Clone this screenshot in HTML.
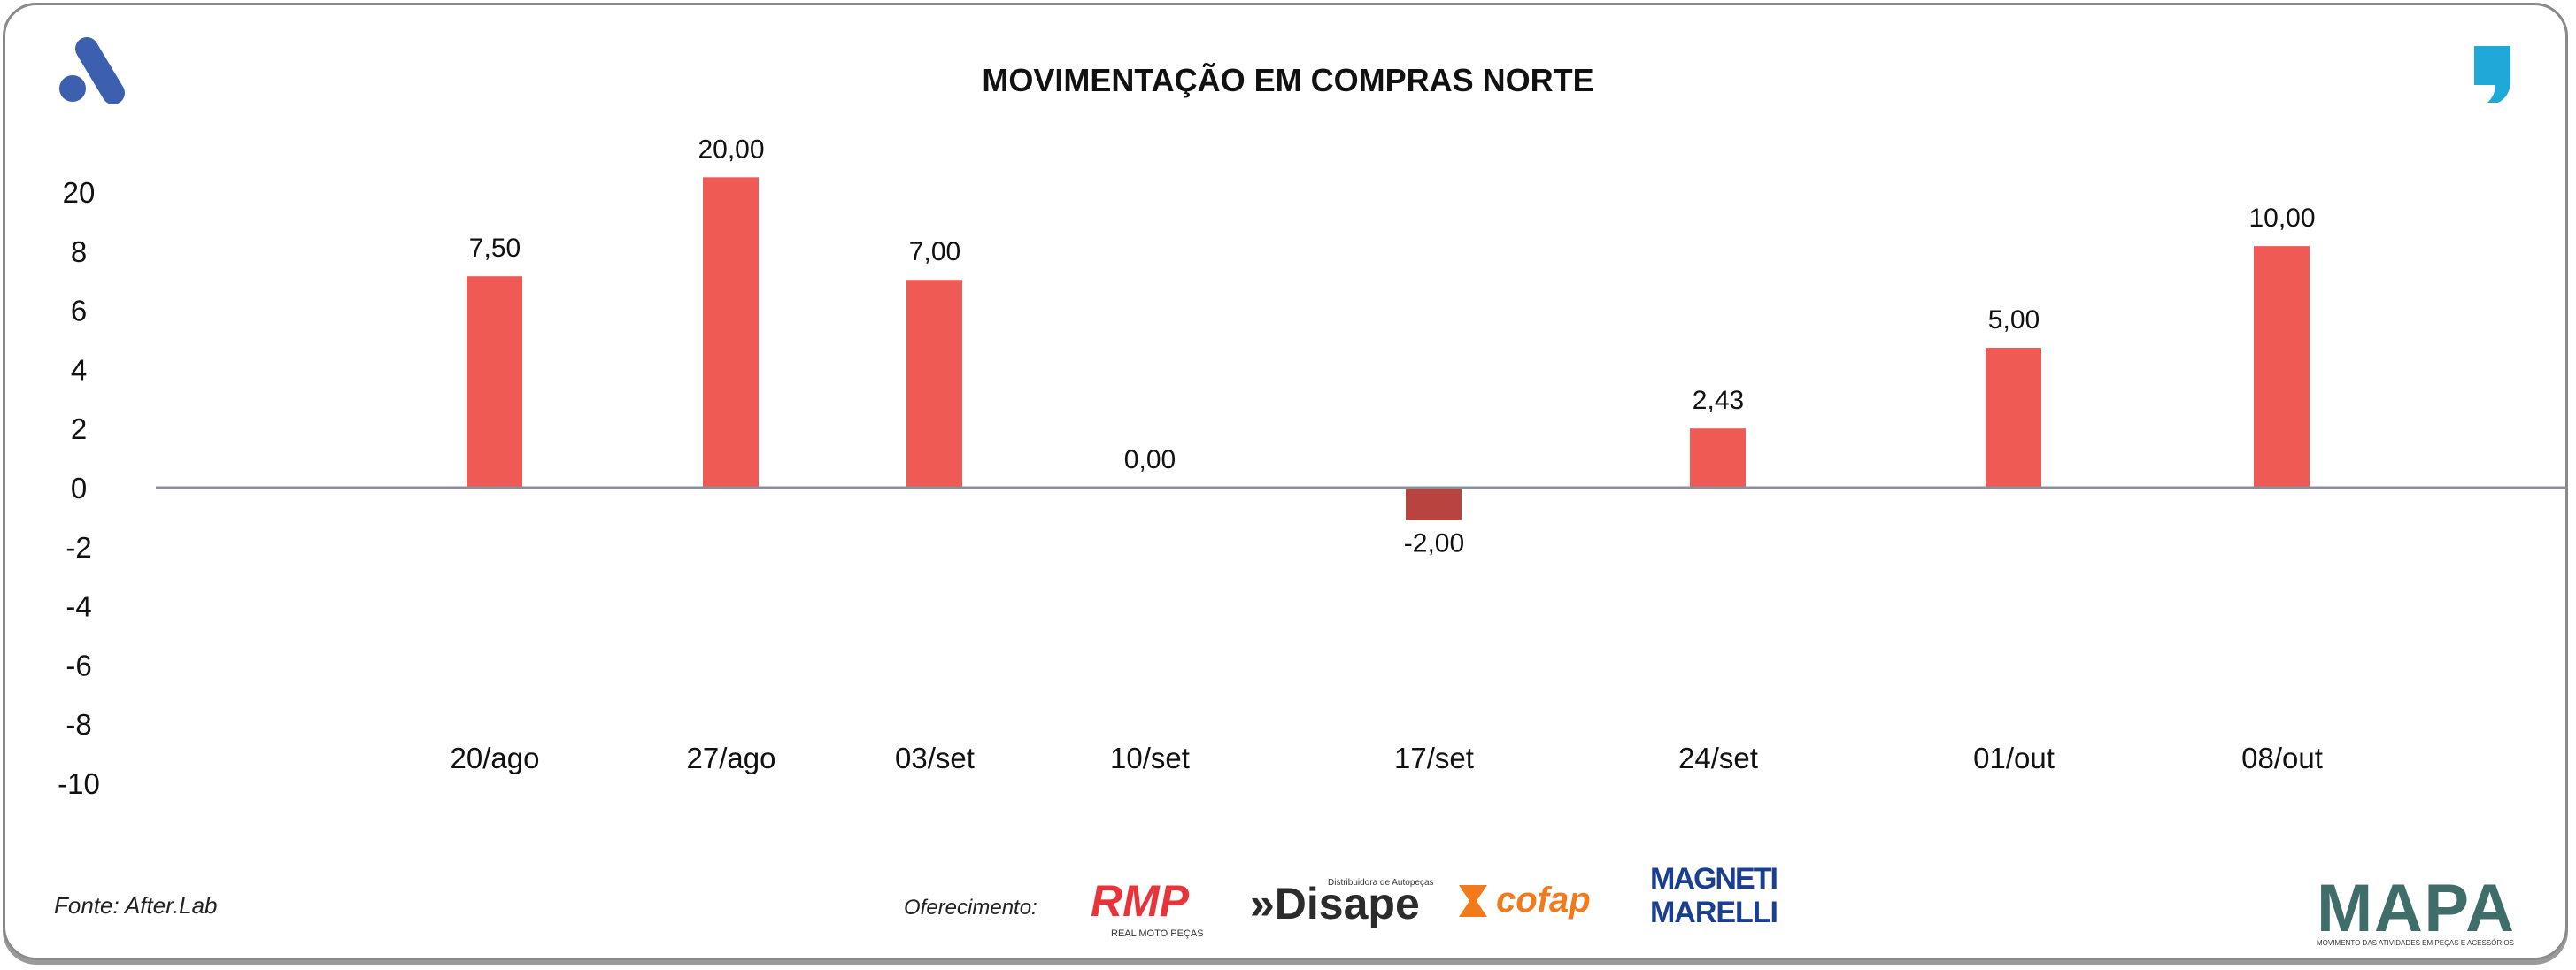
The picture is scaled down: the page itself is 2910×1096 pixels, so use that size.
<!DOCTYPE html>
<html><head><meta charset="utf-8"><style>
html,body{margin:0;padding:0;background:#fff;}
body{width:2910px;height:1096px;position:relative;overflow:hidden;font-family:"Liberation Sans",sans-serif;}
.frame{position:absolute;left:3px;top:3px;width:2898px;height:1082px;border:3px solid #8a8a8a;border-radius:38px;box-shadow:0 5px 0 #9a9a9a;box-sizing:border-box;}
.title{position:absolute;left:0;width:2910px;top:70px;text-align:center;font-weight:bold;font-size:36px;color:#111;}
.note{position:absolute;font-style:italic;font-size:26px;color:#222;}
</style></head><body>
<div class="frame"></div>
<div class="title">MOVIMENTAÇÃO EM COMPRAS NORTE</div>
<svg width="2910" height="1096" style="position:absolute;left:0;top:0">
<g>
<circle cx="82" cy="100" r="15" fill="#3d5fb0"/>
<line x1="98" y1="55" x2="128" y2="105" stroke="#3d5fb0" stroke-width="26" stroke-linecap="round"/>
</g>
<g>
<path d="M2795 52 H2836 V95 Q2834 110 2822 116 H2810 Q2820 106 2818 96 H2795 Z" fill="#1fa8d8"/>
</g>
<g id="plot"></g>
<g>
<text x="1232" y="1035" font-size="50" font-weight="bold" font-style="italic" fill="#e8333a">RMP</text>
<text x="1255" y="1058" font-size="11" fill="#333">REAL MOTO PEÇAS</text>
<text x="1412" y="1038" font-size="50" font-weight="bold" fill="#2b2b2b">»Disape</text>
<text x="1500" y="1000" font-size="10" fill="#333">Distribuidora de Autopeças</text>
<path d="M1648 1000 H1680 L1668 1018 L1680 1036 H1648 L1660 1018 Z" fill="#f07a1c"/>
<text x="1690" y="1030" font-size="40" font-weight="bold" font-style="italic" fill="#f07a1c">cofap</text>
<text x="1864" y="1004" font-size="34" font-weight="bold" fill="#1b3f8f" textLength="145">MAGNETI</text>
<text x="1864" y="1042" font-size="34" font-weight="bold" fill="#1b3f8f" textLength="145">MARELLI</text>
<text x="2617" y="1052" font-size="76" font-weight="bold" fill="#3f6d6a" textLength="223">MAPA</text>
<text x="2617" y="1068" font-size="8" fill="#333" textLength="223">MOVIMENTO DAS ATIVIDADES EM PEÇAS E ACESSÓRIOS</text>
</g>
</svg>
<div class="note" style="left:61px;top:1008px">Fonte: After.Lab</div>
<div class="note" style="left:1021px;top:1012px;font-size:24px">Oferecimento:</div>
<script>
const categories=["20/ago","27/ago","03/set","10/set","17/set","24/set","01/out","08/out"];
const plotted=[7.15,10.5,7.03,0,-1.1,2.0,4.73,8.17];
const valueLabels=["7,50","20,00","7,00","0,00","-2,00","2,43","5,00","10,00"];
const tickValues=[10,8,6,4,2,0,-2,-4,-6,-8,-10];
const tickLabels=["20","8","6","4","2","0","-2","-4","-6","-8","-10"];
const centers=[559,826,1056,1299,1620,1941,2275,2578];
const NS="http://www.w3.org/2000/svg";
const g=document.getElementById('plot');
const y0=551,ppu=33.4;
const yS=v=>y0-v*ppu;
function mk(t,a){const e=document.createElementNS(NS,t);for(const k in a)e.setAttribute(k,a[k]);g.appendChild(e);return e;}
tickValues.forEach((v,i)=>{
 const t=mk('text',{x:89,y:yS(v)+12,'font-size':33,'text-anchor':'middle',fill:'#111'});
 t.textContent=tickLabels[i];
 
 
});
categories.forEach((c,i)=>{
 const v=plotted[i],x=centers[i];
 if(v!==0){
  const r=mk('rect',{x:x-32,y:Math.min(yS(v),y0),width:63,height:Math.abs(yS(v)-y0),fill:v<0?'#b8443f':'#f05a55'});
  
  
 }
 const ly=v>=0?yS(v)-22:yS(v)+36;
 const l=mk('text',{x:x,y:ly,'font-size':30,'text-anchor':'middle',fill:'#111'});
 l.textContent=valueLabels[i];
 
 
 const xl=mk('text',{x:x,y:868,'font-size':33,'text-anchor':'middle',fill:'#111'});
 xl.textContent=c;
 
 
});
const ax=mk('line',{x1:176,x2:2899,y1:y0,y2:y0,stroke:'#8a8f99','stroke-width':3});


</script>
</body></html>
